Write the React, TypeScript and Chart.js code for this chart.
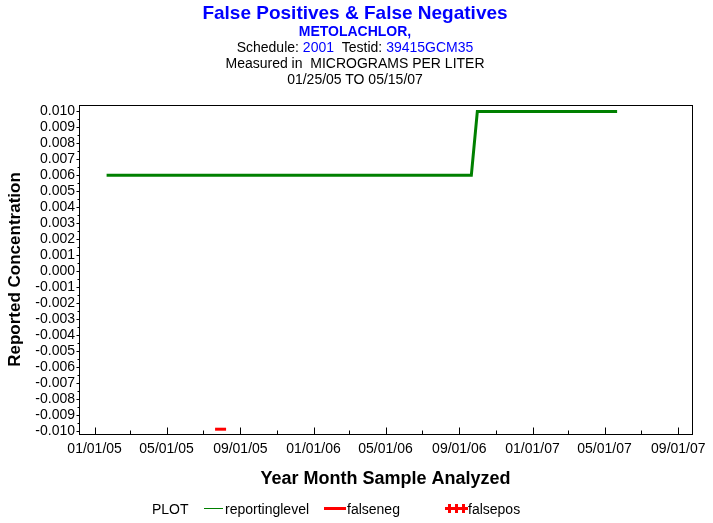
import React, { useEffect, useRef } from 'react';
import { Chart, registerables } from 'chart.js';
Chart.register(...registerables);

const utc = (s: string) => {
  const [y, m, d] = s.split('-').map(Number);
  return Date.UTC(y, m - 1, d);
};

// Data
const reportingDates = ['2005-01-21', '2006-09-21', '2006-10-01', '2007-05-22'];
const reportingValues = [0.006, 0.006, 0.01, 0.01];
const falsenegDates = ['2005-07-30'];
const falsenegValues = [-0.0099];
const falseposDates: string[] = [];
const falseposValues: number[] = [];

// Axis ticks
const xMajorTicks = ['2005-01-01', '2005-05-01', '2005-09-01', '2006-01-01', '2006-05-01', '2006-09-01', '2007-01-01', '2007-05-01', '2007-09-01'];
const xMinorTicks = ['2005-03-01', '2005-07-01', '2005-11-01', '2006-03-01', '2006-07-01', '2006-11-01', '2007-03-01', '2007-07-01'];
const yTicks = [-0.010, -0.009, -0.008, -0.007, -0.006, -0.005, -0.004, -0.003, -0.002, -0.001, 0, 0.001, 0.002, 0.003, 0.004, 0.005, 0.006, 0.007, 0.008, 0.009, 0.010];
const yMin = -0.0102;
const yMax = 0.0104;
const xMin = '2004-12-06';
const xMax = '2007-09-24';

const FONT = '"Liberation Sans", Arial, sans-serif';

const fmtDate = (v: number) => {
  const dt = new Date(v);
  const mm = String(dt.getUTCMonth() + 1).padStart(2, '0');
  const dd = String(dt.getUTCDate()).padStart(2, '0');
  const yy = String(dt.getUTCFullYear() % 100).padStart(2, '0');
  return `${mm}/${dd}/${yy}`;
};

const framePlugin = {
  id: 'frameTicks',
  afterDraw(chart: any) {
    const { ctx, chartArea } = chart;
    const xs = chart.scales.x;
    const ys = chart.scales.y;
    ctx.save();
    ctx.strokeStyle = '#000';
    ctx.lineWidth = 1;
    const L = Math.round(chartArea.left) + 0.5;
    const R = Math.round(chartArea.right) + 0.5;
    const T = Math.round(chartArea.top) + 0.5;
    const B = Math.round(chartArea.bottom) + 0.5;
    ctx.strokeRect(L, T, R - L, B - T);
    ctx.beginPath();
    xMajorTicks.forEach((s) => {
      const px = Math.round(xs.getPixelForValue(utc(s))) + 0.5;
      ctx.moveTo(px, B);
      ctx.lineTo(px, B - 7);
    });
    xMinorTicks.forEach((s) => {
      const px = Math.round(xs.getPixelForValue(utc(s))) + 0.5;
      ctx.moveTo(px, B);
      ctx.lineTo(px, B - 4);
    });
    yTicks.forEach((v, i) => {
      const py = Math.round(ys.getPixelForValue(v)) + 0.5;
      ctx.moveTo(L, py);
      ctx.lineTo(L - 3, py);
      if (i < yTicks.length - 1) {
        const pm = Math.round(ys.getPixelForValue((v + yTicks[i + 1]) / 2)) + 0.5;
        ctx.moveTo(L, pm);
        ctx.lineTo(L - 2, pm);
      }
    });
    ctx.stroke();
    ctx.restore();
  },
};

function ChartView() {
  const ref = useRef<HTMLCanvasElement | null>(null);
  useEffect(() => {
    if (!ref.current) return;
    const chart = new Chart(ref.current, {
      type: 'scatter',
      data: {
        datasets: [
          {
            label: 'reportinglevel',
            data: reportingDates.map((d, i) => ({ x: utc(d), y: reportingValues[i] })),
            showLine: true,
            borderColor: '#008000',
            backgroundColor: '#008000',
            borderWidth: 3,
            pointRadius: 0,
            tension: 0,
          },
          {
            label: 'falseneg',
            data: falsenegDates.map((d, i) => ({ x: utc(d), y: falsenegValues[i] })),
            showLine: false,
            pointStyle: 'line',
            pointRadius: 5.5,
            pointBorderWidth: 3,
            borderColor: '#ff0000',
            backgroundColor: '#ff0000',
          },
          {
            label: 'falsepos',
            data: falseposDates.map((d, i) => ({ x: utc(d), y: falseposValues[i] })),
            showLine: false,
            pointStyle: 'crossRot',
            pointRadius: 4,
            borderColor: '#ff0000',
          },
        ],
      },
      options: {
        animation: false,
        responsive: false,
        events: [],
        layout: { padding: { top: 105, right: 20, bottom: 33, left: 0 } },
        plugins: {
          legend: { display: false },
          tooltip: { enabled: false },
          title: { display: false },
        },
        scales: {
          x: {
            type: 'linear',
            min: utc(xMin),
            max: utc(xMax),
            grid: { display: false, drawTicks: false },
            border: { display: false },
            afterBuildTicks: (scale: any) => {
              scale.ticks = xMajorTicks.map((s) => ({ value: utc(s) }));
            },
            afterFit: (scale: any) => {
              scale.height = 56;
            },
            ticks: {
              autoSkip: false,
              maxRotation: 0,
              minRotation: 0,
              padding: 7,
              color: '#000',
              font: { family: FONT, size: 14 },
              callback: (v: any) => fmtDate(Number(v)),
            },
            title: {
              display: true,
              text: 'Year Month Sample Analyzed',
              color: '#000',
              font: { family: FONT, size: 18, weight: 'bold' },
              padding: { top: 0, bottom: 0 },
            },
          },
          y: {
            type: 'linear',
            min: yMin,
            max: yMax,
            grid: { display: false, drawTicks: false },
            border: { display: false },
            afterBuildTicks: (scale: any) => {
              scale.ticks = yTicks.map((v) => ({ value: v }));
            },
            afterFit: (scale: any) => {
              scale.width = 79;
            },
            ticks: {
              autoSkip: false,
              padding: 4,
              color: '#000',
              font: { family: FONT, size: 14 },
              callback: (v: any) => Number(v).toFixed(3),
            },
            title: {
              display: true,
              text: 'Reported Concentration',
              color: '#000',
              font: { family: FONT, size: 17, weight: 'bold' },
              padding: { top: 5, bottom: 0 },
            },
          },
        },
      },
      plugins: [framePlugin],
    } as any);
    return () => chart.destroy();
  }, []);
  return <canvas ref={ref} width={713} height={523} style={{ position: 'absolute', left: 0, top: 0 }} />;
}

const line = (top: number, extra: React.CSSProperties = {}): React.CSSProperties => ({
  position: 'absolute',
  left: 0,
  width: 710,
  top,
  textAlign: 'center',
  fontFamily: FONT,
  fontSize: 14,
  lineHeight: '16px',
  color: '#000',
  whiteSpace: 'nowrap',
  ...extra,
});

export default function App() {
  const lg: React.CSSProperties = { position: 'absolute', top: 501, fontFamily: FONT, fontSize: 14, lineHeight: '16px', color: '#000', whiteSpace: 'nowrap' };
  return (
    <div style={{ position: 'fixed', left: 0, top: 0, width: 713, height: 523, background: '#fff', overflow: 'hidden' }}>
      <ChartView />
      <div style={line(1, { fontSize: 19, fontWeight: 'bold', color: '#0000ff', lineHeight: '24px' })}>False Positives &amp; False Negatives</div>
      <div style={line(23, { fontWeight: 'bold', color: '#0000ff' })}>METOLACHLOR,</div>
      <div style={line(39)}>
        Schedule: <span style={{ color: '#0000ff' }}>2001</span>&nbsp;&nbsp;Testid: <span style={{ color: '#0000ff' }}>39415GCM35</span>
      </div>
      <div style={line(55)}>Measured in&nbsp; MICROGRAMS PER LITER</div>
      <div style={line(71)}>01/25/05 TO 05/15/07</div>
      <div style={{ ...lg, left: 152 }}>PLOT</div>
      <div style={{ position: 'absolute', left: 204, top: 508, width: 19, height: 1, background: '#008000' }} />
      <div style={{ ...lg, left: 225 }}>reportinglevel</div>
      <div style={{ position: 'absolute', left: 324, top: 507, width: 22, height: 3, background: '#ff0000' }} />
      <div style={{ ...lg, left: 347 }}>falseneg</div>
      <div style={{ position: 'absolute', left: 445, top: 507, width: 23, height: 3, background: '#ff0000' }} />
      <div style={{ position: 'absolute', left: 448, top: 504, width: 3, height: 9, background: '#ff0000' }} />
      <div style={{ position: 'absolute', left: 455, top: 504, width: 3, height: 9, background: '#ff0000' }} />
      <div style={{ position: 'absolute', left: 462, top: 504, width: 3, height: 9, background: '#ff0000' }} />
      <div style={{ ...lg, left: 468 }}>falsepos</div>
    </div>
  );
}
